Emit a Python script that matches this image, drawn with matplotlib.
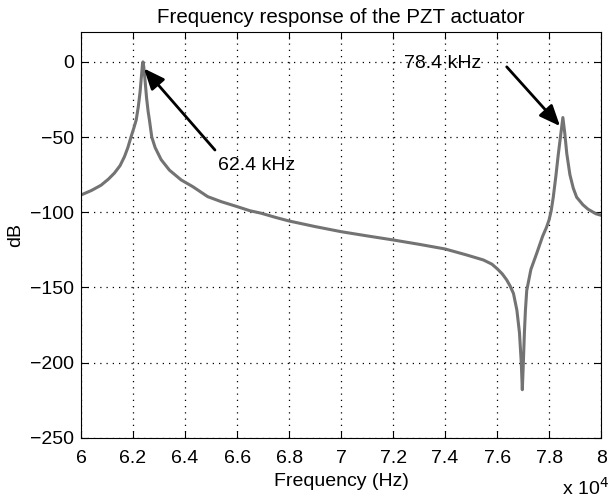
import numpy as np
import matplotlib.pyplot as plt
from matplotlib.ticker import FuncFormatter

# values (frequency in units of 1e4 Hz, magnitude in dB)
freq = [6.000, 6.040, 6.077, 6.105, 6.128, 6.150, 6.167, 6.180, 6.192, 6.203,
        6.212, 6.220, 6.227, 6.232, 6.236, 6.238, 6.241, 6.246, 6.252, 6.258,
        6.263, 6.272, 6.285, 6.308, 6.340, 6.385, 6.430, 6.487, 6.540, 6.596,
        6.650, 6.692, 6.750, 6.800, 6.900, 7.000, 7.100, 7.200, 7.300, 7.400,
        7.483, 7.547, 7.580, 7.600, 7.620, 7.637, 7.650, 7.663, 7.676, 7.686,
        7.693, 7.697, 7.701, 7.705, 7.709, 7.714, 7.730, 7.753, 7.775, 7.790,
        7.800, 7.808, 7.816, 7.826, 7.835, 7.845, 7.853, 7.860, 7.868, 7.880,
        7.893, 7.906, 7.930, 7.950, 7.980, 8.000]
mag_db = [-88.5, -85.5, -82, -78, -74, -69, -63, -57, -50, -44,
          -38.7, -30, -20, -10, -2, 0, -3, -12, -24, -33,
          -38.7, -50, -57, -65, -72, -78.5, -83, -89.6, -93, -96,
          -99, -100.6, -103.5, -105.8, -109.5, -112.9, -115.7, -118.4, -121.3, -124.4,
          -128.4, -131.7, -134.5, -137.5, -141, -145, -149, -154, -165, -180,
          -200, -218, -200, -180, -165, -152, -138, -127, -116, -110,
          -105, -99, -90, -76, -62, -48, -37, -47, -61, -75,
          -84, -90, -95, -98, -101, -102]

xticks = [6.0, 6.2, 6.4, 6.6, 6.8, 7.0, 7.2, 7.4, 7.6, 7.8, 8.0]
yticks = [-250, -200, -150, -100, -50, 0]

plt.rcParams['font.family'] = ['Liberation Sans', 'DejaVu Sans']
plt.rcParams['font.size'] = 14

fig = plt.figure(figsize=(6.14, 4.97), dpi=100)
ax = fig.add_axes([0.132, 0.119, 0.847, 0.817])

f_hz = np.array(freq) * 1e4
ax.plot(f_hz, mag_db, color='#737373', linewidth=2.2)

ax.set_xlim(6e4, 8e4)
ax.set_ylim(-250, 20)
ax.set_xticks(np.array(xticks) * 1e4)
ax.set_yticks(yticks)
ax.xaxis.set_major_formatter(FuncFormatter(lambda v, p: '%g' % (v / 1e4)))
ax.tick_params(direction='in', top=True, right=True, length=5, labelsize=14)
ax.tick_params(axis='x', pad=9)
ax.tick_params(axis='y', pad=5)
ax.grid(True, linestyle=(0, (1, 4)), color='black', linewidth=0.9)

ax.set_title('Frequency response of the PZT actuator', fontsize=14.8, pad=6)
ax.set_xlabel('Frequency (Hz)', fontsize=14, labelpad=4)
ax.set_ylabel('dB', fontsize=14, labelpad=4)
ax.text(1.015, -0.095, 'x 10$^4$', transform=ax.transAxes, ha='right', va='top', fontsize=14)

arrow = dict(arrowstyle='-|>,head_length=0.9,head_width=0.38',
             color='black', linewidth=2, shrinkA=0, shrinkB=0)
ax.annotate('', xy=(6.242e4, -4.4), xytext=(6.515e4, -58.6), arrowprops=arrow)
ax.text(6.527e4, -69, '62.4 kHz', ha='left', va='center', fontsize=14)
ax.annotate('', xy=(7.842e4, -42.7), xytext=(7.637e4, -3.3), arrowprops=arrow)
ax.text(7.39e4, -1, '78.4 kHz', ha='center', va='center', fontsize=14)

fig.savefig('out.png', dpi=100)
